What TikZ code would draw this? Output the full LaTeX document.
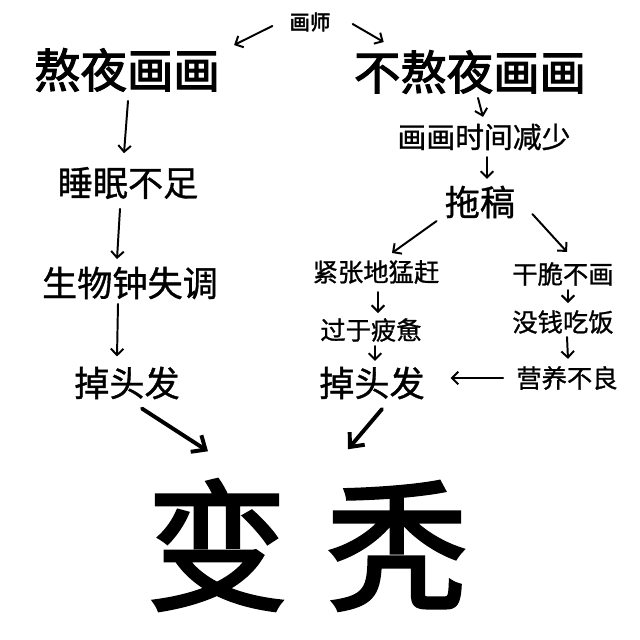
\documentclass[tikz,border=0pt]{standalone}
\usepackage{fontspec}
\setmainfont{Noto Sans CJK SC}
\newfontfamily\medfont{Noto Sans CJK SC}[FakeBold=1]
\newfontfamily\heavyfont{Noto Sans CJK SC}[FakeBold=2.5]
\usetikzlibrary{arrows.meta,calc}

\begin{document}
\begin{tikzpicture}[x=0.025cm,y=-0.025cm,
      >={Straight Barb[length=4.5pt,width=9pt]},
      every node/.style={inner sep=0pt},
      head node/.style={font=\heavyfont\fontsize{14.5}{14.5}\selectfont},
      top node/.style={font=\heavyfont\fontsize{33}{33}\selectfont},
      left node/.style={font=\medfont\fontsize{25}{25}\selectfont},
      mid node/.style={font=\medfont\fontsize{20.5}{20.5}\selectfont},
      small node/.style={font=\medfont\fontsize{18}{18}\selectfont},
      end node/.style={font=\heavyfont\fontsize{100}{100}\selectfont},
      thin arrow/.style={->,line width=1.4pt,line cap=round},
      thick arrow/.style={-{Straight Barb[length=8pt,width=14pt]},line width=2.8pt,line cap=round}]
      \fill[white] (0,0) rectangle (640,640);
      \useasboundingbox (0,0) rectangle (640,640);

      \node[head node] (painter) at (310,22) {画师};
      \node[top node] (stay) at (127,70) {熬夜画画};
      \node[top node] (nostay) at (470,72) {不熬夜画画};
      % left branch
      \node[left node] (sleep) at (128,183) {睡眠不足};
      \node[left node] (clock) at (130,283) {生物钟失调};
      \node[left node] (hairL) at (127,383) {掉头发};
      % right branch
      \node[mid node] (less) at (484,137) {画画时间减少};
      \node[left node] (delay) at (480,202) {拖稿};
      \node[small node] (rush) at (376,272) {紧张地猛赶};
      \node[small node] (quit) at (563,274) {干脆不画};
      \node[small node] (tired) at (371,330) {过于疲惫};
      \node[small node] (broke) at (563,322) {没钱吃饭};
      \node[left node] (hairR) at (372,383) {掉头发};
      \node[small node] (poor) at (567,378) {营养不良};
      \node[end node] (bald) at (307,545) {变\hspace{28pt}秃};

      \path[thin arrow]
        ($(painter.west)+(-17,4)$) edge ($(stay.north east)+(14,-3)$)
        ($(painter.east)+(22,2)$) edge ($(nostay.north west)+(30,-8)$)
        ($(stay.south)+(1,9)$) edge ($(sleep.north)+(-4,-13.5)$)
        ($(sleep.south)+(-8,9.5)$) edge ($(clock.north)+(-13,-7.5)$)
        ($(clock.south)+(-12,4.5)$) edge ($(hairL.north)+(-10,-10)$)
        ($(nostay.south)+(8,4)$) edge ($(less.north)+(-1,-6.5)$)
        ($(less.south)+(3,6.5)$) edge ($(delay.north)+(7,-6.5)$)
        ($(delay.south west)+(-8,2.5)$) edge ($(rush.north)+(16,-7)$)
        ($(delay.south east)+(17,-4.5)$) edge ($(quit.north)+(4,-10)$)
        ($(rush.south)+(2,8)$) edge ($(tired.north)+(7,-5)$)
        ($(tired.south)+(4,4)$) edge ($(hairR.north)+(3,-5.5)$)
        ($(quit.south)+(5,4)$) edge ($(broke.north)+(5,-7)$)
        ($(broke.south)+(4,3)$) edge ($(poor.north)+(1,-7)$)
        ($(poor.west)+(-13,0)$) edge ($(hairR.east)+(25.5,-5)$);

      \path[thick arrow]
        ($(hairL.south)+(15,9)$) edge ($(bald.north)+(-99,-28)$)
        ($(hairR.south)+(10,9.5)$) edge ($(bald.north)+(41,-30)$);
    \end{tikzpicture}
\end{document}
